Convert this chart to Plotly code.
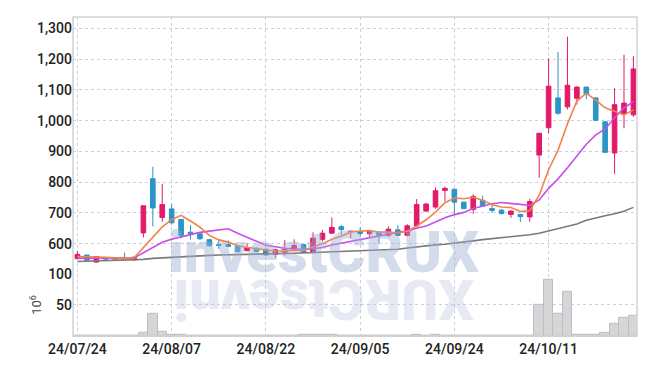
import plotly.graph_objects as go

dates = ["2024-07-24","2024-07-25","2024-07-26","2024-07-29","2024-07-30","2024-07-31","2024-08-01","2024-08-02","2024-08-05","2024-08-06",
         "2024-08-07","2024-08-08","2024-08-09","2024-08-12","2024-08-13","2024-08-14","2024-08-16","2024-08-19","2024-08-20","2024-08-21",
         "2024-08-22","2024-08-23","2024-08-26","2024-08-27","2024-08-28","2024-08-29","2024-08-30","2024-09-02","2024-09-03","2024-09-04",
         "2024-09-05","2024-09-06","2024-09-09","2024-09-10","2024-09-11","2024-09-12","2024-09-13","2024-09-19","2024-09-20","2024-09-23",
         "2024-09-24","2024-09-25","2024-09-26","2024-09-27","2024-09-30","2024-10-02","2024-10-04","2024-10-07","2024-10-08","2024-10-10",
         "2024-10-11","2024-10-14","2024-10-15","2024-10-16","2024-10-17","2024-10-18","2024-10-21","2024-10-22","2024-10-23","2024-10-24"]

open_ = [551,563,540,553,550,553,547,635,811,685,
         713,679,637,632,613,597,597,593,577,585,
         582,565,571,584,597,571,614,634,655,638,
         640,632,637,627,645,627,658,706,719,773,
         777,735,711,741,714,709,695,695,687,888,
         977,1074,1045,1073,1109,1074,996,895,1023,1019]
high = [576,563,558,556,553,571,557,724,850,795,
        730,680,660,633,615,613,611,594,601,587,
        584,583,611,614,599,637,644,685,661,643,
        653,643,638,656,660,663,745,731,783,785,
        779,736,761,756,727,712,708,697,746,960,
        1202,1223,1273,1112,1110,1075,998,1105,1214,1210]
low = [550,546,538,549,549,549,546,620,656,671,
       662,617,613,612,590,583,589,572,576,572,
       561,554,561,582,569,568,607,632,627,618,
       623,619,600,623,625,624,653,704,713,737,
       695,712,697,720,700,695,684,670,671,814,
       959,1019,1036,1052,1070,1000,895,827,975,1012]
close = [565,546,558,550,553,550,556,723,716,727,
         668,627,631,616,593,594,591,574,586,574,
         563,580,582,594,571,618,634,653,646,640,
         633,641,628,647,627,658,727,729,772,780,
         735,714,753,722,708,698,706,688,737,959,
         1112,1024,1115,1109,1086,1001,897,1052,1057,1168]

ma_short = [558,558,557,556,554.4,551.4,553.4,586.4,619.6,654.4,
            678,692.2,673.8,653.8,627,612.2,605,593.6,587.6,583.8,
            577.6,575.4,577,578.6,578,589,599.8,614,624.4,638.2,
            641.2,642.6,637.6,637.8,635.2,640.2,657.4,677.6,702.6,733.2,
            748.6,746,750.8,740.8,726.4,719,717.4,704.4,707.4,757.6,
            840.4,904,989.4,1063.8,1089.2,1067,1041.6,1029,1018.6,1035]
ma_mid = [553,553,553,553,553,553,553.4,570.5,586.9,604.4,
          614.7,622.8,630.1,636.7,640.7,645.1,648.6,633.7,620.7,605.4,
          594.9,590.2,585.3,583.1,580.9,583.3,587.6,595.5,601.5,608.1,
          615.1,621.2,625.8,631.1,636.7,640.7,650,657.6,670.2,684.2,
          694.4,701.7,714.2,721.7,729.8,733.8,731.7,727.6,724.1,742,
          779.7,810.7,846.9,885.6,923.4,953.7,972.8,1009.2,1041.2,1062.1]
ma_long = [542,543,544,544,545,546,547,549,552,554,
           556,558,559,560,562,563,563,564,565,566,
           566,567,568,569,570,571,572,573,574,575,
           576,577,578,580,582,586,590,593,596,598,
           601,605,609,613,616,620,624,627,629,634,
           641,650,657,664,676,684,691,697,705,718]

volume = [0.3,0.3,0.3,0.3,0.3,0.3,0.3,5.3,36.5,6.8,
          2.7,1.2,1.0,0.3,0.3,0.3,0.3,0.3,0.3,0.3,
          0.3,0.3,0.3,0.3,1.2,1.5,1.5,1.2,0.3,0.3,
          0.3,0.3,0.3,0.3,0.3,0.3,1.2,0.5,1.2,0.3,
          0.3,0.3,0.3,0.3,0.3,0.3,0.3,0.3,0.3,49.5,
          91,35.5,71,2.6,1.5,1.5,5.2,19.3,30,33]

tick_idx = [0, 10, 20, 30, 40, 50]
tick_text = ["24/07/24", "24/08/07", "24/08/22", "24/09/05", "24/09/24", "24/10/11"]
price_ticks = [600, 700, 800, 900, 1000, 1100, 1200, 1300]
vol_ticks = [50, 100]

UP = "#E3196A"
DOWN = "#2B95C6"
GRID = "#c9cfdc"
FONT = "Roboto"
TICKFONT = dict(family=FONT, size=14, color="#222222", weight=500)

fig = go.Figure()

fig.add_trace(go.Bar(
    x=dates, y=volume, xaxis="x", yaxis="y2",
    marker=dict(color="#d6d6d8", line=dict(color="#bdbdc2", width=1)),
    showlegend=False, hoverinfo="skip"))

fig.add_trace(go.Scatter(x=dates, y=ma_long, mode="lines", line=dict(color="#7a7a7a", width=1.6),
                         yaxis="y", showlegend=False, hoverinfo="skip"))
fig.add_trace(go.Scatter(x=dates, y=ma_mid, mode="lines", line=dict(color="#C94FE6", width=1.6),
                         yaxis="y", showlegend=False, hoverinfo="skip"))
fig.add_trace(go.Scatter(x=dates, y=ma_short, mode="lines", line=dict(color="#F0834A", width=1.6),
                         yaxis="y", showlegend=False, hoverinfo="skip"))

fig.add_trace(go.Candlestick(
    x=dates, open=open_, high=high, low=low, close=close, yaxis="y",
    increasing=dict(line=dict(color=UP, width=1), fillcolor=UP),
    decreasing=dict(line=dict(color=DOWN, width=1), fillcolor=DOWN),
    whiskerwidth=0, showlegend=False))

fig.update_layout(
    width=647, height=366,
    margin=dict(l=73, r=10, t=9, b=29),
    paper_bgcolor="white", plot_bgcolor="white",
    bargap=0,
    font=dict(family=FONT, size=14, color="#222222"),
    xaxis=dict(type="category", anchor="y2", range=[-0.47, 59.38],
               tickvals=[dates[i] for i in tick_idx], ticktext=tick_text,
               showgrid=True, gridcolor=GRID, griddash="dot", gridwidth=1,
               rangeslider=dict(visible=False), showline=True, linecolor="#cfcfcf",
               ticks="", tickfont=TICKFONT, zeroline=False, fixedrange=True),
    yaxis=dict(domain=[0.195, 1], range=[502, 1337], tickvals=price_ticks,
               tickformat=",d", showgrid=True, gridcolor=GRID, griddash="dot", gridwidth=1,
               zeroline=False, ticks="", tickfont=TICKFONT),
    yaxis2=dict(domain=[0, 0.195], range=[0, 100], tickvals=vol_ticks,
                showgrid=True, gridcolor=GRID, griddash="dot", gridwidth=1,
                zeroline=False, ticks="", tickfont=TICKFONT,
                title=dict(text="10<sup>6</sup>", font=dict(family=FONT, size=13, color="#444444"),
                           standoff=3)),
    shapes=[dict(type="rect", xref="paper", yref="paper", x0=0, x1=1, y0=0, y1=1,
                 line=dict(color="#d2d2d2", width=1.5), fillcolor="rgba(0,0,0,0)", layer="above")],
    annotations=[
        dict(text="XURCtsevni", xref="paper", yref="paper", textangle=180,
             x=0.445, y=0.118, xanchor="center", yanchor="middle", showarrow=False,
             font=dict(family=FONT, size=56, weight=900, color="rgba(190,196,222,0.35)")),
        dict(text="investCRUX", xref="paper", yref="paper",
             x=0.445, y=0.262, xanchor="center", yanchor="middle", showarrow=False,
             font=dict(family=FONT, size=58, weight=900, color="rgba(160,176,210,0.45)")),
    ],
)

fig.write_html("out.html")
